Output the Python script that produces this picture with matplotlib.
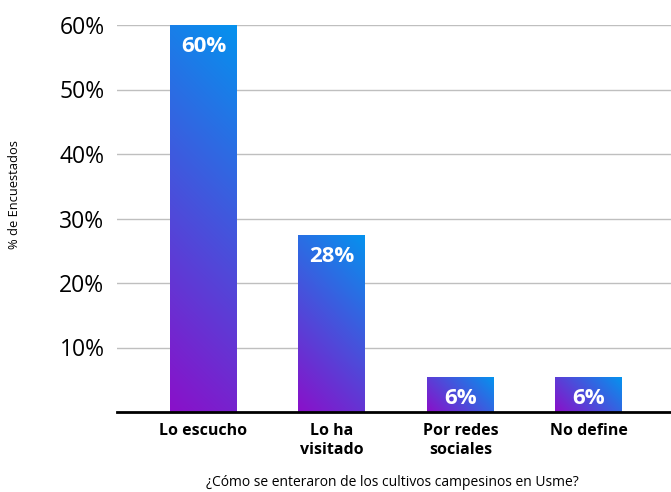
import matplotlib
matplotlib.use("Agg")
import matplotlib.pyplot as plt
import numpy as np
from matplotlib.colors import LinearSegmentedColormap

# --- data ---
categorias = ["Lo escucho", "Lo ha\nvisitado", "Por redes\nsociales", "No define"]
valores = [60, 27.3, 5.3, 5.3]
etiquetas = ["60%", "28%", "6%", "6%"]
y_ticks = [10, 20, 30, 40, 50, 60]

plt.rcParams['font.family'] = ['Open Sans', 'DejaVu Sans']

fig = plt.figure(figsize=(6.71, 4.92), dpi=100)
ax = fig.add_axes([117 / 671, 1 - 412 / 492, 1 - 117 / 671, (412 - 25) / 492])

cmap = LinearSegmentedColormap.from_list("morado_azul", ["#8A10C9", "#0592EE"])
ancho = 0.52

ax.set_xlim(-0.673, 3.64)
ax.set_ylim(0, 60)
fig.canvas.draw()

# tamaño de un dato en pixeles, para el gradiente a 45 grados
bbox = ax.get_window_extent()
px_x = bbox.width / (3.64 + 0.673)
px_y = bbox.height / 60

for i, v in enumerate(valores):
    x0, x1 = i - ancho / 2, i + ancho / 2
    w_px = ancho * px_x
    h_px = v * px_y
    nx_, ny_ = max(int(w_px), 2), max(int(h_px), 2)
    xx, yy = np.meshgrid(np.linspace(0, w_px, nx_), np.linspace(0, h_px, ny_))
    grad = (xx + yy) / (w_px + h_px)
    ax.imshow(grad, cmap=cmap, origin="lower", extent=[x0, x1, 0, v],
              aspect="auto", interpolation="bilinear", zorder=2, vmin=0, vmax=1)
    ax.annotate(etiquetas[i], xy=(i, v), xytext=(0, -21), textcoords="offset pixels",
                ha="center", va="center", color="white", fontsize=16,
                fontweight="bold", zorder=3)

ax.set_xlim(-0.673, 3.64)
ax.set_ylim(0, 60)
ax.set_yticks(y_ticks)
ax.set_yticklabels([f"{t}%" for t in y_ticks], fontsize=16.5)
ax.set_xticks(range(len(categorias)))
ax.set_xticklabels(categorias, fontsize=11.5, fontweight="bold", linespacing=1.2)
ax.tick_params(axis="both", length=0)
ax.tick_params(axis="x", pad=8)
ax.tick_params(axis="y", pad=9)

ax.grid(axis="y", color="#bfbfbf", linewidth=1, zorder=0)
for s in ["left", "right", "top"]:
    ax.spines[s].set_visible(False)
ax.spines["bottom"].set_linewidth(2)
ax.spines["bottom"].set_color("black")
ax.spines["bottom"].set_zorder(4)

fig.text(392 / 671, 1 - 482 / 492, "¿Cómo se enteraron de los cultivos campesinos en Usme?",
         ha="center", va="center", fontsize=10)
fig.text(15 / 671, 1 - 195 / 492, "% de Encuestados", rotation=90,
         ha="center", va="center", fontsize=9.3)

fig.savefig("out.png", dpi=100)
